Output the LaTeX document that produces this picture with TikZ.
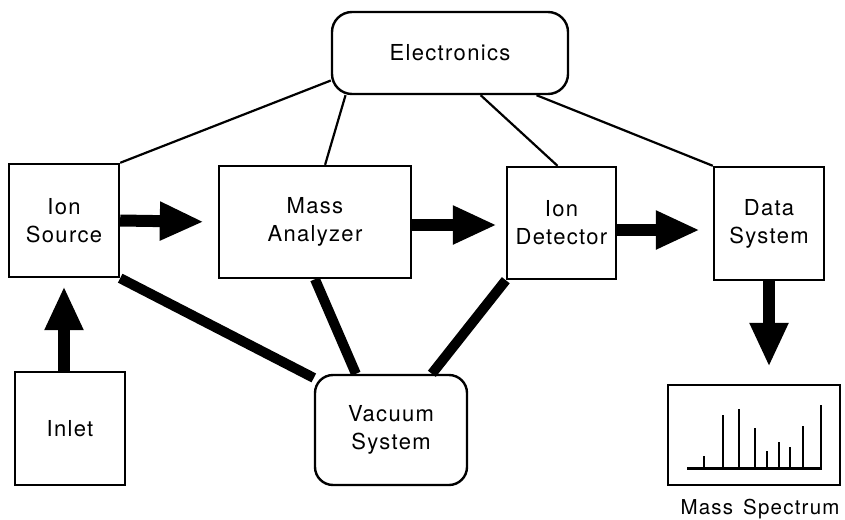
\documentclass[tikz,border=0pt]{standalone}
\usepackage{fontspec}
\setmainfont{TeX Gyre Heros}[LetterSpace=6]
\usepackage{tikz}
\usetikzlibrary{
	arrows.meta,
	calc,
	positioning,
}
\tikzset{box node/.style={draw,rectangle,inner sep=0mm,align=center,line width=2.4pt,font=\fontsize{22}{28}\selectfont,}}
\tikzset{round node/.style={box node,rounded corners=20pt,}}
\tikzset{thin link/.style={line width=2.2pt,}}
\tikzset{thick link/.style={line width=10pt,}}
\tikzset{flow/.style={line width=12pt,-{Triangle[width=36pt,length=44pt]},}}
\tikzset{peak/.style={line width=2.6pt,}}

\begin{document}
\begin{tikzpicture}[x=1pt,y=-1pt]
\useasboundingbox (0,0) rectangle (845,519);

\node[round node,minimum width=236pt,minimum height=82pt](elec) at (450,53){Electronics};
\node[box node,minimum width=110pt,minimum height=113pt](src) at (64,220.5){Ion\\Source};
\node[box node,minimum width=192pt,minimum height=112pt](ana) at (315,222){Mass\\Analyzer};
\node[box node,minimum width=109pt,minimum height=112pt](det) at (561.5,223){Ion\\Detector};
\node[box node,minimum width=110pt,minimum height=113pt](data) at (769,223.5){Data\\System};
\node[box node,minimum width=110pt,minimum height=113pt](inlet) at (70,428.5){Inlet};
\node[round node,minimum width=152pt,minimum height=110pt,rounded corners=18pt](vac) at (391,430){Vacuum\\System};
\node[box node,minimum width=172pt,minimum height=100pt](spec) at (754,435){};
\node[draw=none,inner sep=0mm,font=\fontsize{20.5}{28}\selectfont](speclabel) at (760,509){Mass\hspace{3pt} Spectrum};

\draw[thin link] (src.north east) -- (elec.193);
\draw[thin link] (ana.80) -- (elec.202);
\draw[thin link] ($(det.north)+(-4,0)$) -- (elec.306);
\draw[thin link] (data.north west) -- (elec.334);

\draw[thick link] (src.south east) -- (vac.146);
\draw[thick link] (ana.south) -- (vac.122);
\draw[thick link] (det.south west) -- (vac.54);

\draw[flow,shorten >=14pt] (src.east) -- (ana.west);
\draw[flow,shorten >=9pt] ($(ana.east)+(0,3)$) -- (det.west |- {$(ana.east)+(0,3)$});
\draw[flow,shorten >=13pt] ($(det.east)+(0,7)$) -- (data.west |- {$(det.east)+(0,7)$});
\draw[flow,shorten >=17pt] (data.south) -- (spec.north -| data.south);
\draw[flow,shorten >=8pt] (src.south |- inlet.north) -- (src.south);

\draw[peak,line width=3pt] (687,468) -- (822,468);
\foreach \x/\h in {704/456,723/415,739/409,755/428,767/451,779/442,790/447,803/426,821/405}
	\draw[peak] (\x,468) -- (\x,\h);
\end{tikzpicture}
\end{document}
